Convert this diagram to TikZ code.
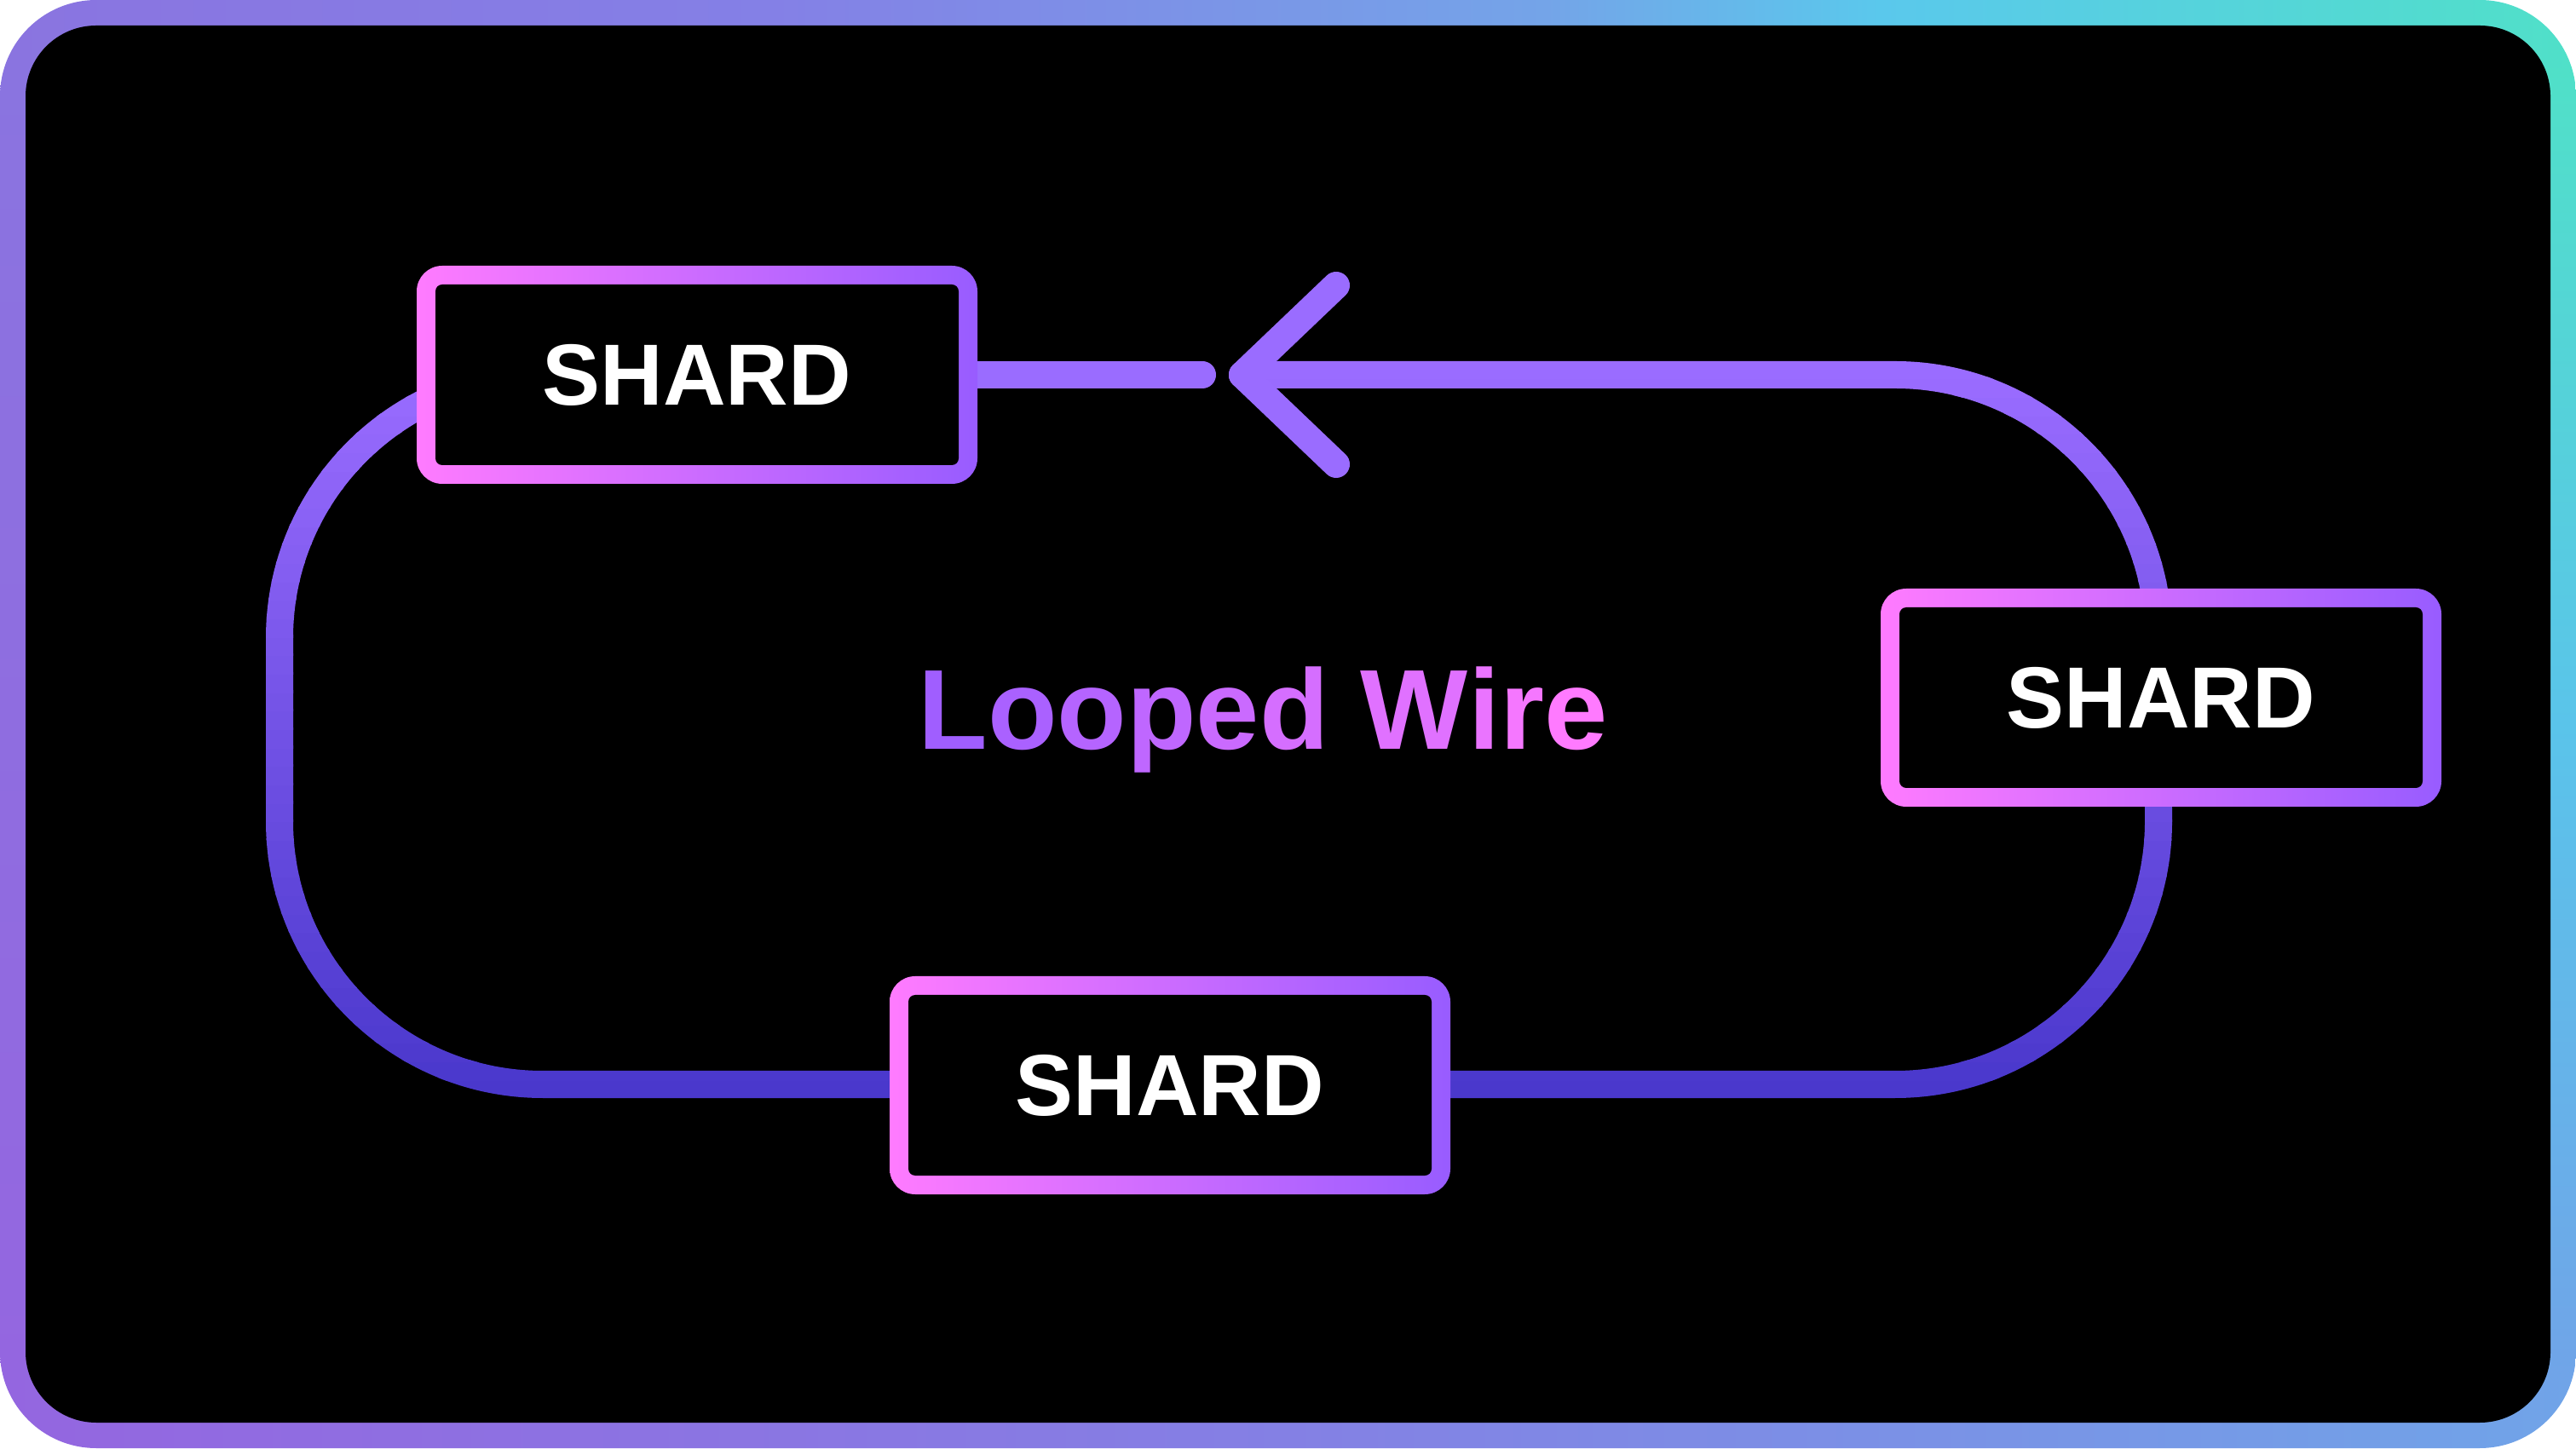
\documentclass[tikz,border=0pt]{standalone}
\usepackage{fontspec}
\setmainfont{Liberation Sans}
\usepackage{tikz}
\usetikzlibrary{backgrounds}
\definecolor{wireTop}{HTML}{9A6CFF}
\definecolor{wireBot}{HTML}{4A38CC}
\definecolor{shardPink}{HTML}{FF7BFF}
\definecolor{shardPurple}{HTML}{985CFF}
\definecolor{titleL}{HTML}{A05EFF}
\definecolor{titleR}{HTML}{FF7AFF}
\definecolor{frameA}{HTML}{8A74E0}
\definecolor{frameB}{HTML}{8480E6}
\definecolor{frameC}{HTML}{74A4E8}
\definecolor{frameD}{HTML}{5AC8EC}
\definecolor{frameE}{HTML}{50E0C8}
\definecolor{frameF}{HTML}{9466E0}
\definecolor{frameG}{HTML}{8480E4}
\definecolor{frameH}{HTML}{70A4E8}
\definecolor{frameI}{HTML}{5AC4EA}
\pgfdeclarehorizontalshading{frameTop}{100bp}{color(0bp)=(frameA); color(25bp)=(frameA); color(40bp)=(frameB); color(55bp)=(frameC); color(61.5bp)=(frameD); color(75bp)=(frameE); color(100bp)=(frameE)}
\pgfdeclarehorizontalshading{frameBot}{100bp}{color(0bp)=(frameF); color(25bp)=(frameF); color(50bp)=(frameG); color(75bp)=(frameH); color(100bp)=(frameH)}
\pgfdeclareverticalshading{frameLeft}{100bp}{color(0bp)=(frameF); color(25bp)=(frameF); color(75bp)=(frameA); color(100bp)=(frameA)}
\pgfdeclareverticalshading{frameRight}{100bp}{color(0bp)=(frameH); color(25bp)=(frameH); color(50bp)=(frameI); color(75bp)=(frameE); color(100bp)=(frameE)}

\begin{document}
\begin{tikzpicture}[
		shardnode/.style={rounded corners=0.3cm, minimum width=6.58cm, minimum height=2.56cm, left color=shardPink, right color=shardPurple, text=white, font=\fontsize{29}{33}\selectfont\bfseries,
			path picture={\fill[black, rounded corners=0.08cm] ([shift={(0.22,0.22)}]path picture bounding box.south west) rectangle ([shift={(-0.22,-0.22)}]path picture bounding box.north east);}},
		wire/.style={line width=0.32cm, line cap=round, line join=round}
	]
		\useasboundingbox (0,0) rectangle (30.23,17);

		\node[shardnode] (shard1) at (8.18,12.60) {SHARD};
		\node[shardnode] (shard2) at (25.36,8.81) {SHARD};
		\node[shardnode] (shard3) at (13.73,4.26) {SHARD};

		\node[font=\fontsize{38}{42}\selectfont\bfseries, anchor=base] (title) at (14.82,8.20) {{\color{titleR!0!titleL}L}{\color{titleR!11!titleL}o}{\color{titleR!22!titleL}o}{\color{titleR!33!titleL}p}{\color{titleR!44!titleL}e}{\color{titleR!56!titleL}d} {\color{titleR!67!titleL}W}{\color{titleR!78!titleL}i}{\color{titleR!89!titleL}r}{\color{titleR!100!titleL}e}};

		\coordinate (tip) at (14.58,12.60);
		\coordinate (armTop) at (15.68,13.65);
		\coordinate (armBot) at (15.68,11.55);
		\coordinate (gapL) at (14.11,12.60);
		\coordinate (loopNE) at (25.33,12.60);
		\coordinate (loopSE) at (25.33,4.27);
		\coordinate (loopSW) at (3.28,4.27);
		\coordinate (loopNW) at (3.28,12.60);

		\begin{pgfonlayer}{background}
			\begin{scope}
				\clip[rounded corners=1.13cm] (0,0) rectangle (30.23,17);
				\shade[shading=frameLeft] (0,0.8) rectangle (0.8,16.2);
				\shade[shading=frameRight] (29.43,0.8) rectangle (30.23,16.2);
				\shade[shading=frameTop] (0,16.2) rectangle (30.23,17);
				\shade[shading=frameBot] (0,0) rectangle (30.23,0.8);
			\end{scope}
			\fill[black, rounded corners=0.83cm] (0.30,0.30) rectangle (29.93,16.70);

			\foreach \i in {0,...,39}{
				\pgfmathsetmacro\ylo{4.10+\i*0.21675}
				\pgfmathsetmacro\yhi{\ylo+0.24}
				\pgfmathsetmacro\pct{min(100,max(0,100*(\ylo+0.108-4.27)/8.33))}
				\begin{scope}
					\clip (0,\ylo) rectangle (30.23,\yhi);
					\draw[wire, color=wireTop!\pct!wireBot, rounded corners=3.09cm] (tip) -- (loopNE) -- (loopSE) -- (loopSW) -- (loopNW) -- (shard1.center);
				\end{scope}
			}

			\draw[wire, color=wireTop] (armTop) -- (tip) -- (armBot);
			\draw[wire, color=wireTop] (shard1.east) -- (gapL);
		\end{pgfonlayer}
	\end{tikzpicture}
\end{document}
